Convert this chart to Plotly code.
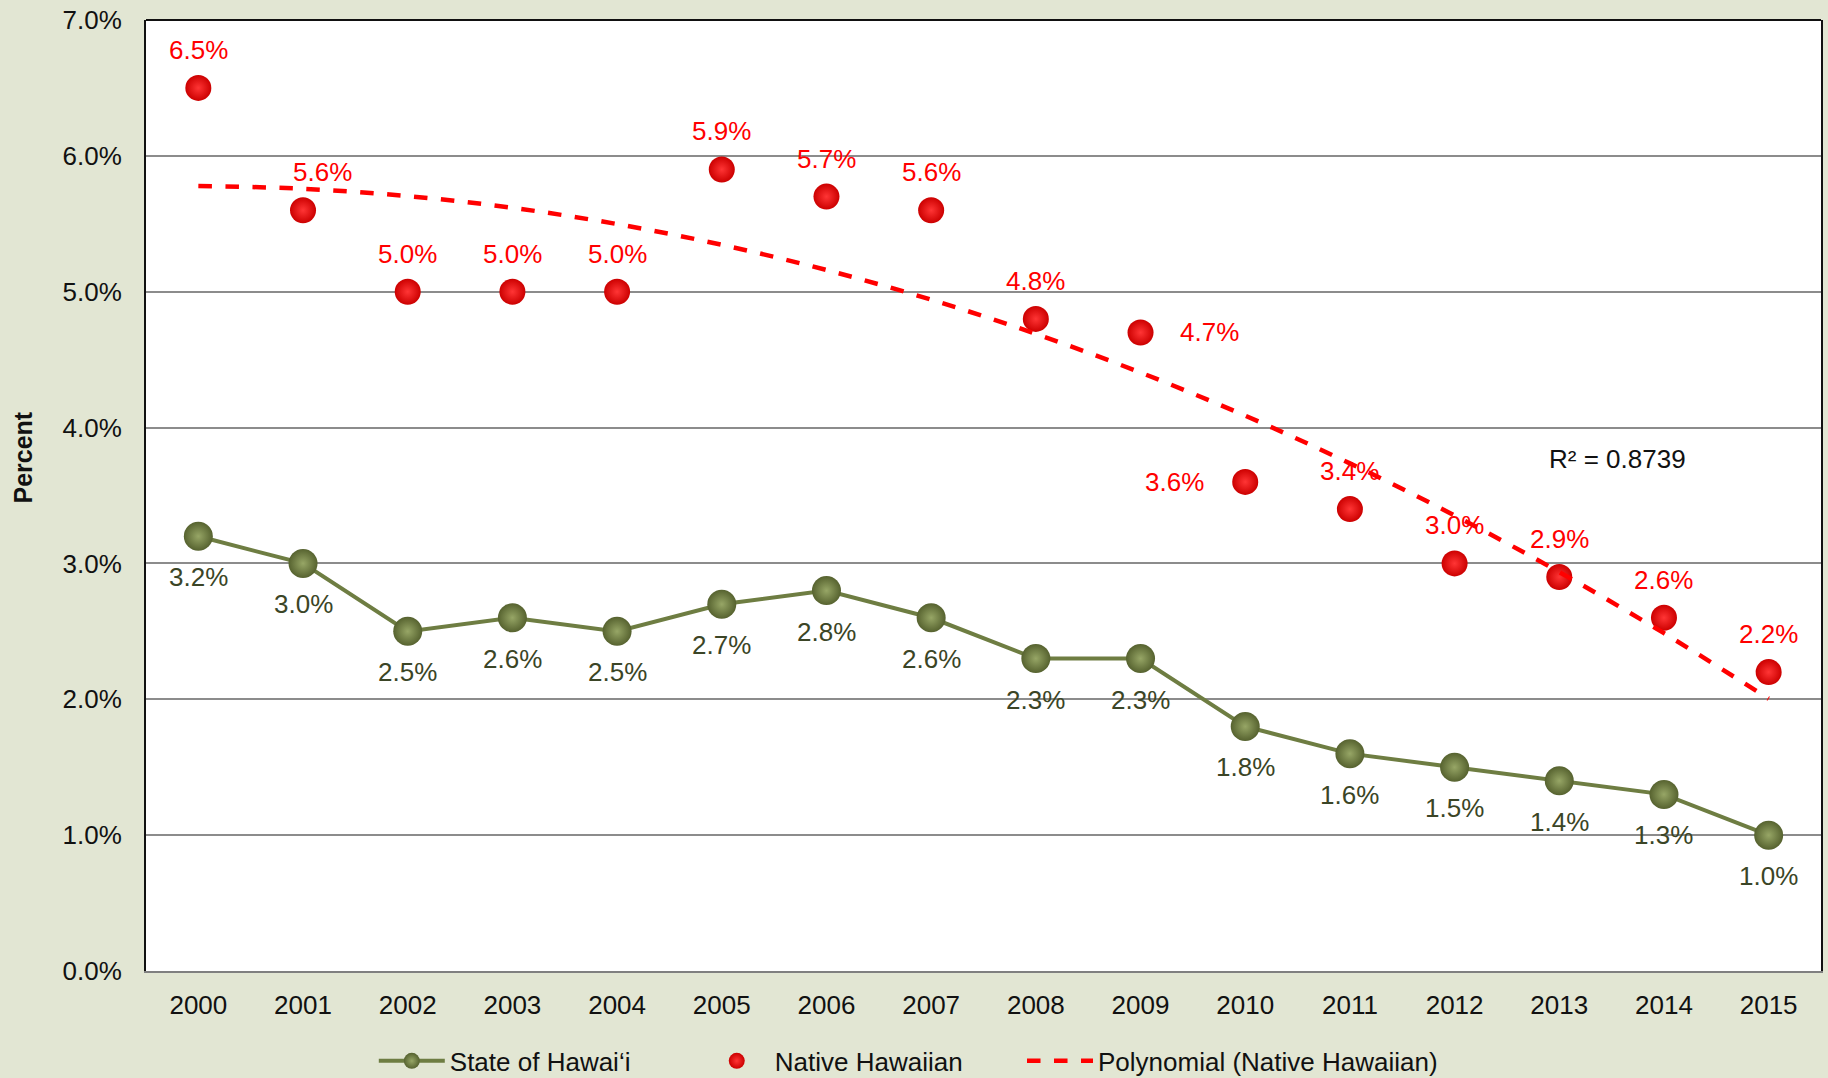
import numpy as np
import plotly.graph_objects as go

years = [str(y) for y in range(2000, 2016)]
state_vals = [3.2, 3.0, 2.5, 2.6, 2.5, 2.7, 2.8, 2.6, 2.3, 2.3, 1.8, 1.6, 1.5, 1.4, 1.3, 1.0]
native_vals = [6.5, 5.6, 5.0, 5.0, 5.0, 5.9, 5.7, 5.6, 4.8, 4.7, 3.6, 3.4, 3.0, 2.9, 2.6, 2.2]
# label placement for Native Hawaiian values: "t" above, "r" right, "l" left, "tr" above-right
native_label_side = ["t", "tr", "t", "t", "t", "t", "t", "t", "t", "r",
                     "l", "t", "t", "t", "t", "t"]
y_ticks = [0, 1, 2, 3, 4, 5, 6, 7]
y_tick_text = ["0.0%", "1.0%", "2.0%", "3.0%", "4.0%", "5.0%", "6.0%", "7.0%"]
r2_text = "R² = 0.8739"

# polynomial trendline (order 2) fitted to the Native Hawaiian data
idx = np.arange(len(native_vals))
coef = np.polyfit(idx, native_vals, 2)
trend = np.polyval(coef, idx)

BG = "#e2e6d3"
OLIVE = "#6e7d42"
FONT = "Liberation Sans, Arial, sans-serif"
LBL = 26

fig = go.Figure()

fig.add_trace(go.Scatter(
    x=years, y=state_vals, name="State of Hawai\u2018i", legend="legend",
    mode="lines+markers",
    line=dict(color=OLIVE, width=4),
    marker=dict(size=29, color="#56622f",
                gradient=dict(type="radial", color="#97a666"),
                line=dict(width=0)),
))

fig.add_trace(go.Scatter(
    x=years, y=native_vals, name="Native Hawaiian", legend="legend2",
    mode="markers",
    marker=dict(size=26, color="#cc0000",
                gradient=dict(type="radial", color="#ff3535"),
                line=dict(width=0)),
))

fig.add_trace(go.Scatter(
    x=years, y=trend, name="Polynomial (Native Hawaiian)", legend="legend3",
    mode="lines", line=dict(color="#ff0000", width=4.5, dash="dash", shape="spline"),
))

for i, v in enumerate(state_vals):
    fig.add_annotation(x=i, y=v, xref="x", yref="y", text=f"{v:.1f}%", showarrow=False,
                       yshift=-41, font=dict(size=LBL, color="#3b4526", family=FONT))

shifts = {"t": (0, 38), "tr": (19, 38), "r": (69, 0), "l": (-71, 0)}
for i, (v, side) in enumerate(zip(native_vals, native_label_side)):
    dx, dy = shifts[side]
    fig.add_annotation(x=i, y=v, xref="x", yref="y", text=f"{v:.1f}%", showarrow=False,
                       xshift=dx, yshift=dy, font=dict(size=LBL, color="#ff0000", family=FONT))

fig.add_annotation(x=13.56, y=3.77, xref="x", yref="y", text=r2_text, showarrow=False,
                   font=dict(size=LBL, color="#111111", family=FONT))

fig.add_annotation(x=-0.0734, y=0.54, xref="paper", yref="paper", text="<b>Percent</b>",
                   xanchor="center", yanchor="middle",
                   textangle=-90, showarrow=False, font=dict(size=25, color="#111111", family=FONT))

fig.add_shape(type="line", xref="paper", yref="paper", x0=0, x1=1, y0=1, y1=1,
              line=dict(color="#111111", width=2))

leg_common = dict(orientation="h", yref="container", y=0.0158, yanchor="middle",
                  xanchor="left", font=dict(size=26, family=FONT), itemwidth=66,
                  bgcolor="rgba(0,0,0,0)")

fig.update_layout(
    width=1828, height=1078,
    paper_bgcolor=BG, plot_bgcolor="white",
    margin=dict(l=146, r=7, t=20, b=107, autoexpand=False),
    font=dict(family=FONT, size=26, color="#111111"),
    showlegend=True,
    legend=dict(x=0.136, **leg_common),
    legend2=dict(x=0.330, **leg_common),
    legend3=dict(x=0.523, **leg_common),
    xaxis=dict(type="category", range=[-0.5, 15.5], showgrid=False, automargin=False,
               showline=True, linecolor="#808080", linewidth=2,
               ticks="", tickfont=dict(size=26, color="#111111"),
               ticklabelstandoff=10),
    yaxis=dict(range=[0, 7], tickvals=y_ticks, ticktext=y_tick_text, automargin=False,
               showgrid=True, gridcolor="#8c8c8c", gridwidth=1.5,
               showline=True, linecolor="#111111", linewidth=2, mirror=True,
               zeroline=False, ticks="", tickfont=dict(size=26, color="#111111"),
               ticklabelstandoff=17),
)

fig.write_html("out.html", config={"displayModeBar": False},
               post_script="document.body.style.margin='0';document.body.style.background='" + BG + "';")
